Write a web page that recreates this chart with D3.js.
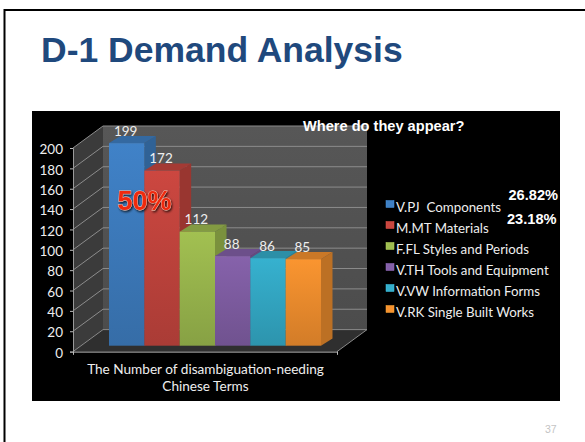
<!DOCTYPE html>
<html><head><meta charset="utf-8">
<script src="https://cdn.jsdelivr.net/npm/d3@7"></script>
<style>html,body{margin:0;padding:0;background:#fff}svg{display:block}text{white-space:pre}</style>
</head><body><svg id="c" width="585" height="442"></svg>
<script>
const categories=["V.PJ  Components","M.MT Materials","F.FL Styles and Periods","V.TH Tools and Equipment","V.VW Information Forms","V.RK Single Built Works"];
const values=[199,172,112,88,86,85];
const colors=["#3f80c4","#c8463f","#9fbd50","#8460a8","#35aecb","#f6922f"];
const yTicks=[0,20,40,60,80,100,120,140,160,180,200];
const axisTitle=["The Number of disambiguation-needing","Chinese Terms"];
const percents=["26.82%","23.18%"];

const svg=d3.select("#c");
const sans="'Liberation Sans',Arial,sans-serif", lato="Lato,'Open Sans',sans-serif";
const defs=svg.append("defs");
colors.forEach((c,i)=>{
  const g=defs.append("linearGradient").attr("id","g"+i).attr("x1",0).attr("x2",0).attr("y1",0).attr("y2",1);
  g.append("stop").attr("offset",0).attr("stop-color",d3.color(c).brighter(0.05));
  g.append("stop").attr("offset",1).attr("stop-color",d3.color(c).darker(0.45));
});
const wall=defs.append("linearGradient").attr("id","wall").attr("x1",0).attr("x2",0).attr("y1",0).attr("y2",1);
wall.append("stop").attr("offset",0).attr("stop-color","#575757");
wall.append("stop").attr("offset",1).attr("stop-color","#4c4c4c");
const f=defs.append("filter").attr("id","sh").attr("x","-20%").attr("y","-20%").attr("width","140%").attr("height","140%");
f.append("feDropShadow").attr("dx",1).attr("dy",1.5).attr("stdDeviation",1).attr("flood-color","#000").attr("flood-opacity",.8);

// slide frame
svg.append("path").attr("d","M4.5 442V10H585").attr("fill","none").attr("stroke","#000").attr("stroke-width",2);
svg.append("text").attr("x",41).attr("y",62).attr("font-family",sans).attr("font-weight",700).attr("font-size",35.5).attr("fill","#1f497d").text("D-1 Demand Analysis");
svg.append("text").attr("x",545).attr("y",433).attr("font-family",sans).attr("font-size",10.5).attr("fill","#c4c4c4").text("37");

// chart panel
svg.append("rect").attr("x",32).attr("y",111).attr("width",528).attr("height",290).attr("fill","#000");

const x0=73,x1=337,dx=30,dy=-22;
const y=d3.scaleLinear().domain([0,200]).range([351.6,148]);
const line=d3.line();
svg.append("path").attr("d",line([[x0,y(200)],[x0+dx,y(200)+dy],[x0+dx,y(0)+dy],[x0,y(0)]])+"Z").attr("fill","#3b3b3b");
svg.append("path").attr("d",line([[x0+dx,y(200)+dy],[x1+dx,y(200)+dy],[x1+dx,y(0)+dy],[x0+dx,y(0)+dy]])+"Z").attr("fill","url(#wall)");
svg.append("path").attr("d",line([[x0,y(0)],[x0+dx,y(0)+dy],[x1+dx,y(0)+dy],[x1,y(0)]])+"Z").attr("fill","#2f2f2f");
yTicks.forEach(t=>{
  svg.append("path").attr("d",line([[x0,y(t)],[x0+dx,y(t)+dy],[x1+dx,y(t)+dy]])).attr("fill","none").attr("stroke","#8c8c8c").attr("stroke-width",1);
});
svg.append("path").attr("d",line([[x1,y(0)],[x1+dx,y(0)+dy]])).attr("stroke","#8c8c8c").attr("fill","none");

const yAxis=d3.axisLeft(y).tickValues(yTicks).tickSize(3).tickPadding(7);
const ag=svg.append("g").attr("transform",`translate(${x0},0)`).call(yAxis);
ag.select(".domain").attr("stroke","#9a9a9a");
ag.selectAll("line").attr("stroke","#bbb");
ag.selectAll("text").attr("fill","#eee").attr("font-family",lato).attr("font-size",13.5).attr("dy","0.42em");
const xAxis=d3.axisBottom(d3.scaleLinear().domain([0,1]).range([x0,x1])).tickValues([0,1]).tickSize(3).tickFormat("");
const xg=svg.append("g").attr("transform",`translate(0,${y(0)})`).call(xAxis);
xg.select(".domain").attr("stroke","#bbb");
xg.selectAll("line").attr("stroke","#bbb");

// bars
const band=d3.scaleBand().domain(categories).range([109,321]).padding(0);
const bz=[8.5,-5.9], depth=[11.5,-7.2];
const w=band.bandwidth();
categories.forEach((c,i)=>{
  const v=values[i], l=band(c), r=l+w, t=y(v)+bz[1], b=y(0)+bz[1];
  const [ddx,ddy]=depth, col=d3.color(colors[i]);
  svg.append("path").attr("d",line([[r,t],[r+ddx,t+ddy],[r+ddx,b+ddy],[r,b]])+"Z").attr("fill",col.darker(0.75));
  svg.append("path").attr("d",line([[l,t],[l+ddx,t+ddy],[r+ddx,t+ddy],[r,t]])+"Z").attr("fill",col.darker(0.55));
  svg.append("rect").attr("x",l).attr("y",t).attr("width",w).attr("height",b-t).attr("fill",`url(#g${i})`);
});
categories.forEach((c,i)=>{
  svg.append("text").attr("x",band(c)+w/2-1).attr("y",y(values[i])+bz[1]+depth[1]).attr("text-anchor","middle")
    .attr("font-family",lato).attr("font-size",13.5).attr("fill","#eee").text(values[i]);
});
svg.append("text").attr("x",144.5).attr("y",210).attr("text-anchor","middle").attr("font-family",sans).attr("font-weight",700).attr("font-size",27)
  .attr("fill","#f02a10").attr("stroke","#f5c9b8").attr("stroke-width",0.8).attr("paint-order","stroke").attr("filter","url(#sh)").text("50%");

// axis title
axisTitle.forEach((s,i)=>svg.append("text").attr("x",205.5).attr("y",373.5+i*17.5).attr("text-anchor","middle").attr("font-family",lato).attr("font-size",13.6).attr("fill","#eee").text(s));

// legend
categories.forEach((c,i)=>{
  const yy=200.5+i*21;
  svg.append("rect").attr("x",386).attr("y",yy).attr("width",8).attr("height",7).attr("fill",colors[i]).attr("stroke",d3.color(colors[i]).brighter(.4)).attr("stroke-width",.5);
  svg.append("text").attr("x",396).attr("y",yy+11).attr("font-family",lato).attr("font-size",13.3).attr("fill","#eee").text(c);
});
svg.append("text").attr("x",303).attr("y",131).attr("font-family",sans).attr("font-weight",700).attr("font-size",14.6).attr("fill","#fff").text("Where do they appear?");
percents.forEach((s,i)=>svg.append("text").attr("x",i?507:508.5).attr("y",i?224:200).attr("font-family",sans).attr("font-weight",700).attr("font-size",14.6).attr("fill","#fff").text(s));
</script></body></html>
